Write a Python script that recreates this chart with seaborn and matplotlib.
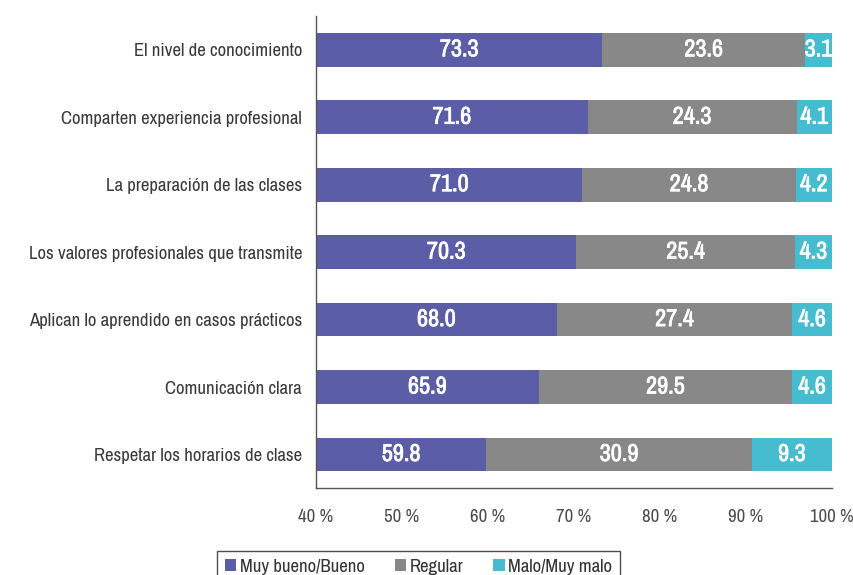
import matplotlib
matplotlib.use("Agg")
import matplotlib.pyplot as plt
import matplotlib.patheffects as pe
from matplotlib import font_manager
from matplotlib.patches import Patch
import seaborn as sns
import pandas as pd
import numpy as np

categorias = ['El nivel de conocimiento',
              'Comparten experiencia profesional',
              'La preparación de las clases',
              'Los valores profesionales que transmite',
              'Aplican lo aprendido en casos prácticos',
              'Comunicación clara',
              'Respetar los horarios de clase']
muy_bueno = [73.3, 71.6, 71.0, 70.3, 68.0, 65.9, 59.8]
regular = [23.6, 24.3, 24.8, 25.4, 27.4, 29.5, 30.9]
malo = [3.1, 4.1, 4.2, 4.3, 4.6, 4.6, 9.3]
series = ['Muy bueno/Bueno', 'Regular', 'Malo/Muy malo']
colores = ['#5b5ea6', '#888888', '#45bccf']
ticks_x = [40, 50, 60, 70, 80, 90, 100]

sns.set_style('white')

# narrow font if there is one, otherwise a smaller DejaVu Sans
disponibles = set(f.name for f in font_manager.fontManager.ttflist)
fuente, escala = 'DejaVu Sans', 0.78
for nombre in ['Liberation Sans Narrow', 'Archivo Narrow', 'Roboto Condensed']:
    if nombre in disponibles:
        fuente, escala = nombre, 1.0
        break
plt.rcParams['font.family'] = [fuente, 'DejaVu Sans']

df = pd.DataFrame({'cat': categorias, 'mb': muy_bueno, 'reg': regular, 'mal': malo})
df['c1'] = df['mb']
df['c2'] = df['mb'] + df['reg']
df['c3'] = df['c2'] + df['mal']

fig = plt.figure(figsize=(8.54, 5.75), dpi=100)
ax = fig.add_axes([0.370, 0.151, 0.604, 0.821])

sns.barplot(data=df, x='c3', y='cat', color=colores[2], width=0.5, ax=ax, saturation=1, orient='h')
sns.barplot(data=df, x='c2', y='cat', color=colores[1], width=0.5, ax=ax, saturation=1, orient='h')
sns.barplot(data=df, x='c1', y='cat', color=colores[0], width=0.5, ax=ax, saturation=1, orient='h')
for p in ax.patches:
    p.set_edgecolor('none')

x0 = ticks_x[0]
grueso = [pe.withStroke(linewidth=0.5, foreground='white')]
for i, r in df.iterrows():
    kw = dict(color='white', ha='center', va='center', fontsize=17.5 * escala, fontweight='bold',
              path_effects=grueso)
    ax.text((x0 + r['c1']) / 2, i, f"{r['mb']:.1f}", **kw)
    ax.text((r['c1'] + r['c2']) / 2, i, f"{r['reg']:.1f}", **kw)
    ax.text((r['c2'] + r['c3']) / 2, i, f"{r['mal']:.1f}", **kw)

ax.set_xlim(40, 100)
ax.set_ylim(len(categorias) - 0.5, -0.5)
ax.set_xticks(ticks_x)
ax.set_xticklabels([f'{t} %' for t in ticks_x])
ax.set_xlabel('')
ax.set_ylabel('')

ax.set_yticks(np.arange(-0.5, len(categorias), 1), minor=True)
ax.tick_params(axis='y', which='major', length=0, pad=10, labelsize=13.5 * escala, labelcolor='#3a3a3a')
ax.tick_params(axis='y', which='minor', length=7, width=1, color='#333333', direction='out')
ax.tick_params(axis='x', which='major', length=6, width=1, color='#333333', direction='out',
               labelsize=13.5 * escala, labelcolor='#4a4a4a', pad=9)

for s in ['top', 'right']:
    ax.spines[s].set_visible(False)
for s in ['left', 'bottom']:
    ax.spines[s].set_color('#555555')
    ax.spines[s].set_linewidth(1)

handles = [Patch(facecolor=c, edgecolor='none', label=l) for c, l in zip(colores, series)]
leg = fig.legend(handles=handles, loc='upper center', bbox_to_anchor=(0.49, 0.058), ncol=3,
                 frameon=True, fancybox=False, edgecolor='#222222', fontsize=13.5 * escala,
                 handlelength=0.6, handleheight=0.6, handletextpad=0.2, columnspacing=1.6,
                 borderpad=0.4)
leg.get_frame().set_linewidth(1)
for t in leg.get_texts():
    t.set_color('#333333')

fig.savefig('out.png', dpi=100)
